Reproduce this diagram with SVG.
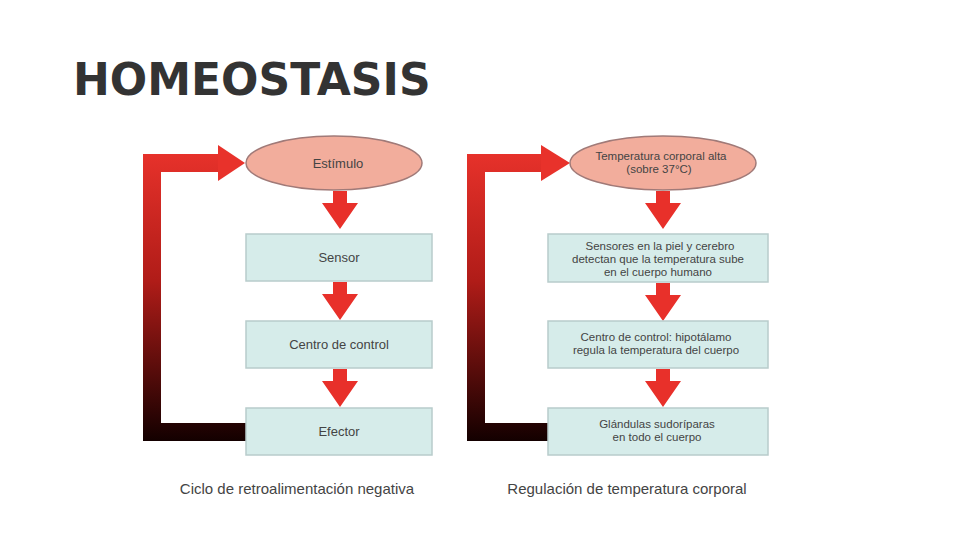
<svg xmlns="http://www.w3.org/2000/svg" width="960" height="540" viewBox="0 0 960 540">
<defs>
<linearGradient id="loopL" gradientUnits="userSpaceOnUse" x1="0" y1="150" x2="0" y2="440">
<stop offset="0" stop-color="#e8322b"/>
<stop offset="0.45" stop-color="#b01c18"/>
<stop offset="1" stop-color="#140000"/>
</linearGradient>
<path id="down" d="M-7,0 H7 V12 H18 L0,38 L-18,12 H-7 Z"/>
</defs>
<style>
.title{font-family:"DejaVu Sans",sans-serif;font-weight:bold;font-size:44px;fill:#333333}
.ell{fill:#f2ad9c;stroke:#a07a78;stroke-width:1.5}
.box{fill:#d6ecea;stroke:#b8cccb;stroke-width:1.5}
.t{font-family:"Liberation Sans",Arial,sans-serif;font-size:13px;fill:#444444;text-anchor:middle}
.s{font-family:"Liberation Sans",Arial,sans-serif;font-size:11.5px;fill:#444444;text-anchor:middle}
.cap{font-family:"Liberation Sans",Arial,sans-serif;font-size:15px;fill:#444444;text-anchor:middle}
.arr{fill:#e8302a}
.loop{fill:none;stroke:url(#loopL);stroke-width:18;stroke-linejoin:miter}
</style>
<rect width="960" height="540" fill="#ffffff"/>
<text class="title" x="73" y="95">HOMEOSTASIS</text>

<g id="connectors">
<path class="loop" d="M246,432 H152 V163 H222"/>
<polygon fill="#e8322b" points="218,145 245,163 218,181"/>
<use href="#down" class="arr" x="340" y="191"/>
<use href="#down" class="arr" x="340" y="282"/>
<use href="#down" class="arr" x="340" y="369"/>
<path class="loop" d="M548,432 H476 V163 H545"/>
<polygon fill="#e8322b" points="541,145 570,163 541,181"/>
<use href="#down" class="arr" x="663" y="191"/>
<use href="#down" class="arr" x="663" y="283"/>
<use href="#down" class="arr" x="663" y="369"/>
</g>

<g id="estimulo">
<ellipse class="ell" cx="334" cy="163" rx="88" ry="27"/>
<text class="t" x="338" y="168">Estímulo</text>
</g>
<g id="sensor">
<rect class="box" x="246" y="234" width="186" height="47"/>
<text class="t" x="339" y="262">Sensor</text>
</g>
<g id="centro">
<rect class="box" x="246" y="321" width="186" height="47"/>
<text class="t" x="339" y="349">Centro de control</text>
</g>
<g id="efector">
<rect class="box" x="246" y="408" width="186" height="47"/>
<text class="t" x="339" y="436">Efector</text>
</g>
<text class="cap" x="297" y="494">Ciclo de retroalimentación negativa</text>

<g id="temperatura">
<ellipse class="ell" cx="663" cy="163" rx="93" ry="27"/>
<text class="s" x="661" y="160">Temperatura corporal alta</text>
<text class="s" x="659" y="173">(sobre 37°C)</text>
</g>
<g id="sensores">
<rect class="box" x="548" y="234" width="220" height="48"/>
<text class="s" x="660" y="250">Sensores en la piel y cerebro</text>
<text class="s" x="658" y="263">detectan que la temperatura sube</text>
<text class="s" x="658" y="276">en el cuerpo humano</text>
</g>
<g id="regulador">
<rect class="box" x="548" y="321" width="220" height="47"/>
<text class="s" x="656" y="341">Centro de control: hipotálamo</text>
<text class="s" x="656" y="354">regula la temperatura del cuerpo</text>
</g>
<g id="glandulas">
<rect class="box" x="548" y="408" width="220" height="47"/>
<text class="s" x="657" y="428">Glándulas sudoríparas</text>
<text class="s" x="657" y="441">en todo el cuerpo</text>
</g>
<text class="cap" x="627" y="494">Regulación de temperatura corporal</text>
</svg>
